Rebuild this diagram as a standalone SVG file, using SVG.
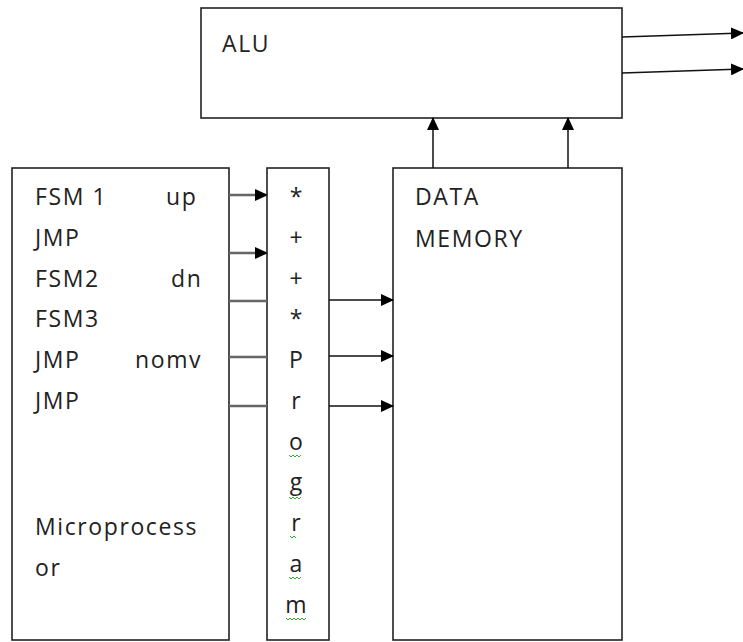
<svg xmlns="http://www.w3.org/2000/svg" width="743" height="642" viewBox="0 0 743 642">
<style>
.box{fill:#fff;stroke:#222;stroke-width:1.6}
.t{font-family:"Open Sans","Liberation Sans",sans-serif;font-size:23px;fill:#222;letter-spacing:1.6px}
.c{text-anchor:middle;letter-spacing:0}
.ln{stroke:#111;stroke-width:1.5;fill:none}
.gl{stroke:#666;stroke-width:2.6;fill:none}
.sq{stroke:#3a3;stroke-width:1;fill:none}
</style>
<defs>
<marker id="ah" markerWidth="13" markerHeight="12" refX="12" refY="6" orient="auto" markerUnits="userSpaceOnUse">
<path d="M0,0 L13,6 L0,12 Z" fill="#000"/>
</marker>
</defs>
<g id="alu">
<rect class="box" x="201" y="8" width="421" height="110"/>
<text class="t" x="222" y="52">ALU</text>
</g>
<g id="microprocessor">
<rect class="box" x="12" y="168" width="217" height="472"/>
<text class="t" x="35" y="205">FSM 1</text>
<text class="t" x="166" y="205">up</text>
<text class="t" x="35" y="246">JMP</text>
<text class="t" x="35" y="287">FSM2</text>
<text class="t" x="171" y="287">dn</text>
<text class="t" x="35" y="327">FSM3</text>
<text class="t" x="35" y="368">JMP</text>
<text class="t" x="135" y="368">nomv</text>
<text class="t" x="35" y="409">JMP</text>
<text class="t" x="35" y="535">Microprocess</text>
<text class="t" x="35" y="576">or</text>
</g>
<g id="program">
<rect class="box" x="267" y="168" width="62" height="472"/>
<text class="t c" x="296" y="205" font-size="20">*</text>
<text class="t c" x="296" y="246">+</text>
<text class="t c" x="296" y="287">+</text>
<text class="t c" x="296" y="327" font-size="20">*</text>
<text class="t c" x="296" y="368">P</text>
<text class="t c" x="296" y="409">r</text>
<text class="t c" x="296" y="450">o</text>
<text class="t c" x="296" y="490">g</text>
<text class="t c" x="296" y="531">r</text>
<text class="t c" x="296" y="572">a</text>
<text class="t c" x="296" y="613">m</text>
<path class="sq" d="M289,455 l2,2 l2,-2 l2,2 l2,-2 l2,2 l2,-2"/>
<path class="sq" d="M289,497 l2,2 l2,-2 l2,2 l2,-2 l2,2 l2,-2"/>
<path class="sq" d="M290,536 l2,2 l2,-2 l2,2"/>
<path class="sq" d="M289,577 l2,2 l2,-2 l2,2 l2,-2 l2,2 l2,-2"/>
<path class="sq" d="M286,618 l2,2 l2,-2 l2,2 l2,-2 l2,2 l2,-2 l2,2 l2,-2 l2,2 l2,-2"/>
</g>
<g id="datamemory">
<rect class="box" x="393" y="168" width="229" height="472"/>
<text class="t" x="415" y="205">DATA</text>
<text class="t" x="415" y="247">MEMORY</text>
</g>
<g id="connectors">
<line class="ln" x1="622" y1="37" x2="743" y2="33" marker-end="url(#ah)"/>
<line class="ln" x1="622" y1="73" x2="743" y2="69" marker-end="url(#ah)"/>
<line class="ln" x1="433" y1="168" x2="433" y2="118" marker-end="url(#ah)"/>
<line class="ln" x1="568" y1="168" x2="568" y2="118" marker-end="url(#ah)"/>
<line class="gl" x1="229" y1="195" x2="267" y2="195" marker-end="url(#ah)"/>
<line class="gl" x1="229" y1="253" x2="267" y2="253" marker-end="url(#ah)"/>
<line class="gl" x1="229" y1="301" x2="267" y2="301"/>
<line class="gl" x1="229" y1="357" x2="267" y2="357"/>
<line class="gl" x1="229" y1="406" x2="267" y2="406"/>
<line class="ln" x1="329" y1="300" x2="393" y2="300" marker-end="url(#ah)"/>
<line class="ln" x1="329" y1="356" x2="393" y2="356" marker-end="url(#ah)"/>
<line class="ln" x1="329" y1="406" x2="393" y2="406" marker-end="url(#ah)"/>
</g>
</svg>
